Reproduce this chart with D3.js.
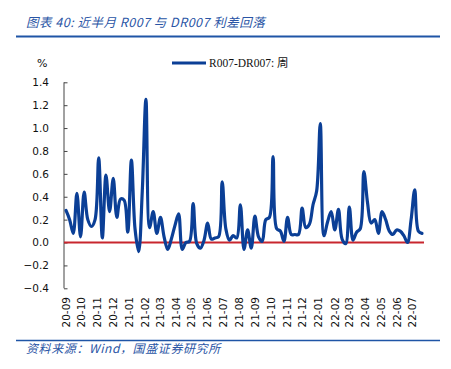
<!DOCTYPE html>
<html><head><meta charset="utf-8">
<script src="https://cdn.jsdelivr.net/npm/d3@7"></script>
<style>
body{margin:0;background:#fff;}
svg{display:block;}
</style></head>
<body>
<svg id="c" width="451" height="369"></svg>
<script>
const titleText = "图表 40:  近半月 R007 与 DR007 利差回落";
const sourceText = "资料来源：Wind，国盛证券研究所";
const seriesName = "R007-DR007: 周";
const startDate = "2020-09-04";
const yTicks = [-0.4, -0.2, 0.0, 0.2, 0.4, 0.6, 0.8, 1.0, 1.2, 1.4];
const values = [
 0.28, 0.20, 0.08, 0.43, 0.05, 0.44, 0.20, 0.14, 0.20, 0.74,
 0.04, 0.59, 0.27, 0.56, 0.22, 0.38, 0.37, 0.09, 0.72, 0.12,
 -0.08, 0.45, 1.25, 0.13, 0.27, 0.08, 0.22, 0.05, -0.06, 0.03,
 0.15, 0.25, -0.06, 0.00, 0.01, 0.34, -0.01, -0.05, 0.02, 0.17,
 0.03, 0.04, 0.05, 0.53, 0.12, 0.02, 0.06, 0.04, 0.33, -0.06,
 0.11, -0.05, 0.23, 0.05, 0.01, 0.20, 0.22, 0.75, 0.12, 0.10,
 0.01, 0.22, 0.07, 0.07, 0.07, 0.30, 0.13, 0.16, 0.33, 0.45,
 1.04, 0.06, 0.18, 0.27, 0.11, 0.29, 0.03, -0.01, 0.31, 0.02,
 0.09, 0.12, 0.62, 0.35, 0.17, 0.20, 0.08, 0.27, 0.20, 0.10,
 0.07, 0.11, 0.10, 0.06, 0.00, 0.20, 0.46, 0.10, 0.08
];

const t0 = d3.timeParse("%Y-%m-%d")(startDate);
const dates = values.map((v, i) => d3.timeWeek.offset(t0, i));
const data = values.map((v, i) => ({d: dates[i], v}));

const svg = d3.select("#c");
const blue = "#0b3f96";
const textBlue = "#2a55a5";

// Title
svg.append("text").attr("x", 26).attr("y", 27)
  .attr("font-family", "'Noto Sans CJK SC', sans-serif")
  .attr("font-style", "italic").attr("font-size", 12.5).attr("letter-spacing", 0.5)
  .attr("fill", textBlue).text(titleText);
svg.append("line").attr("x1", 16).attr("x2", 440).attr("y1", 36.5).attr("y2", 36.5)
  .attr("stroke", "#1f55a6").attr("stroke-width", 2);

// Scales
const x = d3.scaleTime().domain([dates[0], dates[dates.length - 1]]).range([66, 422]);
const y = d3.scaleLinear().domain([-0.4, 1.4]).range([288.3, 82.3]);

// Y axis
const ya = svg.append("g").attr("transform", "translate(64,0)")
  .call(d3.axisLeft(y).tickValues(yTicks).tickSize(-3.5).tickPadding(15)
    .tickFormat(d3.format(".1f")));
ya.select(".domain").attr("stroke", "#444").attr("d", `M0,${y(-0.4)}V${y(1.4)}`);
ya.selectAll(".tick line").attr("stroke", "#444");
ya.selectAll("text").attr("font-family", "'DejaVu Sans', sans-serif")
  .attr("font-size", 10.5).attr("fill", "#111").attr("x", -15);

svg.append("text").attr("x", 37).attr("y", 67)
  .attr("font-family", "'DejaVu Sans', sans-serif").attr("font-size", 11)
  .attr("fill", "#111").text("%");

// X labels
const months = d3.timeMonth.range(d3.timeMonth.ceil(d3.timeDay.offset(dates[0], -5)), dates[dates.length - 1]);
const fmt = d3.timeFormat("%y-%m");
const xa = svg.append("g").attr("transform", "translate(0,297)")
  .call(d3.axisBottom(x).tickValues(months).tickFormat(fmt).tickSize(0).tickPadding(0));
xa.select(".domain").remove();
xa.selectAll("text")
  .attr("font-family", "'DejaVu Sans', sans-serif").attr("font-size", 10.5).attr("fill", "#111")
  .attr("text-anchor", "end").attr("transform", "rotate(-90)")
  .attr("x", 0).attr("y", 0).attr("dx", 0).attr("dy", "0.36em");
xa.selectAll(".tick").attr("transform", d => `translate(${x(d) + 1.5},0)`);

// zero line
svg.append("line").attr("x1", 64).attr("x2", 424).attr("y1", y(0)).attr("y2", y(0))
  .attr("stroke", "#c8262e").attr("stroke-width", 2);

// series
const line = d3.line().x(d => x(d.d)).y(d => y(d.v)).curve(d3.curveCatmullRom.alpha(0.5));
svg.append("path").datum(data).attr("d", line)
  .attr("fill", "none").attr("stroke", blue).attr("stroke-width", 3.2)
  .attr("stroke-linejoin", "round").attr("stroke-linecap", "round");

// legend
svg.append("line").attr("x1", 172).attr("x2", 206).attr("y1", 63).attr("y2", 63)
  .attr("stroke", blue).attr("stroke-width", 3);
svg.append("text").attr("x", 209).attr("y", 67)
  .attr("font-family", "'Liberation Serif', 'Noto Sans CJK SC', serif").attr("font-size", 11.5)
  .attr("fill", "#111").text(seriesName);

// source
svg.append("line").attr("x1", 16).attr("x2", 440).attr("y1", 340.5).attr("y2", 340.5)
  .attr("stroke", "#1f55a6").attr("stroke-width", 1.5);
svg.append("text").attr("x", 26).attr("y", 353)
  .attr("font-family", "'Noto Sans CJK SC', sans-serif")
  .attr("font-style", "italic").attr("font-size", 12).attr("letter-spacing", 0.6)
  .attr("fill", textBlue).text(sourceText);
</script>
</body></html>
